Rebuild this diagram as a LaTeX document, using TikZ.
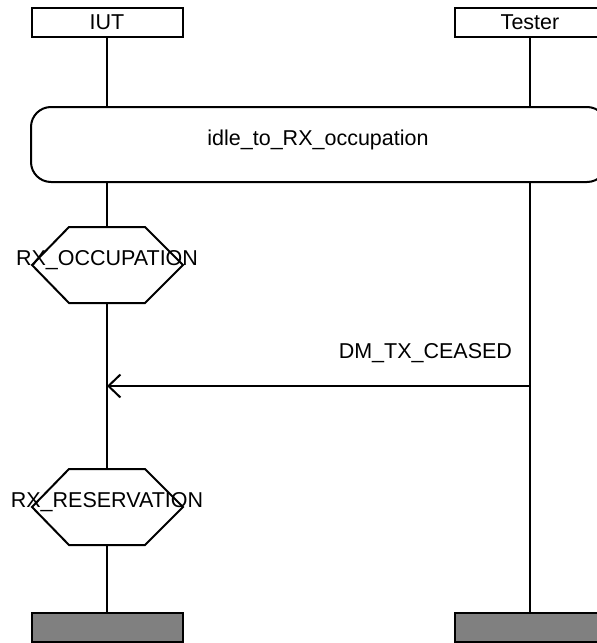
\documentclass[tikz,border=0pt]{standalone}
\usepackage{fontspec}
\setmainfont{Liberation Sans}
\usetikzlibrary{arrows.meta}
\begin{document}
\begin{tikzpicture}[x=1pt,y=-1pt,line width=2pt,
  every node/.style={font=\fontsize{21.5}{25}\selectfont, inner sep=0pt},
  inst/.style={draw, minimum width=151pt, minimum height=29pt, anchor=center},
  endbox/.style={draw, fill={rgb,255:red,128;green,128;blue,128}, minimum width=151pt, minimum height=29pt},
  lbl/.style={anchor=center},
  hexa/.style={draw, fill=white},
  msgarrow/.style={-{Straight Barb[length=12pt,width=23pt]}}]
\useasboundingbox (0,0) rectangle (597,643);
\clip (0,0) rectangle (597,643);
% instance heads
\node[inst] (iut) at (107,22.5) {IUT};
\node[inst] (tester) at (530,22.5) {Tester};
% end boxes
\node[endbox] (iutend) at (107,627.5) {};
\node[endbox] (testerend) at (530,627.5) {};
% lifelines
\draw (iut.south) -- (iutend.north);
\draw (tester.south) -- (testerend.north);
% reference box
\draw[fill=white, rounded corners=20pt] (31,107) rectangle (607,182);
\node[lbl] (ref) at (318,140) {idle\_to\_RX\_occupation};
% condition 1
\draw[hexa] (69,227) -- (145,227) -- (183,265) -- (145,303) -- (69,303) -- (32,265) -- cycle;
\node[lbl] (c1) at (107,260) {RX\_OCCUPATION};
% condition 2
\draw[hexa] (69,469) -- (145,469) -- (183,507) -- (145,545) -- (69,545) -- (32,507) -- cycle;
\node[lbl] (c2) at (107,502) {RX\_RESERVATION};
% message
\coordinate (msgs) at (530,386);
\coordinate (msgt) at (107,386);
\draw[msgarrow] (msgs) -- (msgt);
\node[anchor=east] (m1) at (513,353) {DM\_TX\_CEASED};
\end{tikzpicture}
\end{document}
